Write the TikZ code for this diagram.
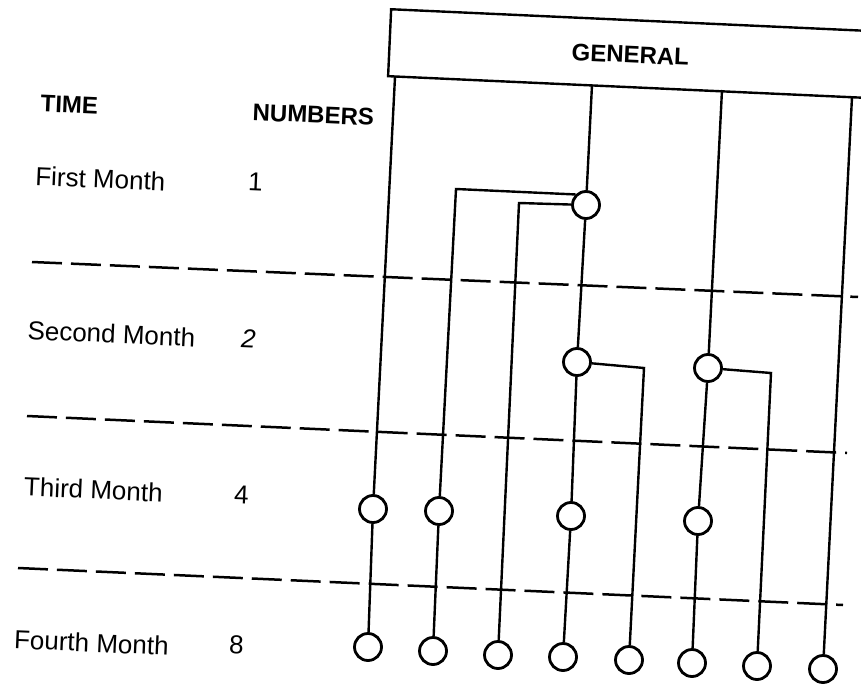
\documentclass[tikz,border=0pt]{standalone}
\usepackage{fontspec}
\setmainfont{Liberation Sans}
\begin{document}
\begin{tikzpicture}[x=1pt,y=-1pt,
  ln/.style={line width=2.4pt},
  dot/.style={circle,draw,line width=2.8pt,minimum size=27pt,inner sep=0pt},
  sep/.style={line width=2.5pt,dash pattern=on 30pt off 9pt},
  lbl/.style={font=\fontsize{26}{30}\selectfont,anchor=base,rotate=-2.5,inner sep=0pt},
  hdr/.style={font=\fontsize{24}{28}\selectfont\bfseries,anchor=base,rotate=-2.5,inner sep=0pt}]
\useasboundingbox (0,0) rectangle (861,684);
\clip (0,0) rectangle (861,684);

% header box
\node[draw,line width=2.4pt,rotate=-2.6,anchor=north west,minimum width=560pt,minimum height=67pt,inner sep=0pt] (box) at (390,8) {};
\node[hdr] (general) at (630,63) {GENERAL};

% left labels
\node[hdr] (time) at (69,113) {TIME};
\node[hdr] (numbers) at (313,123) {NUMBERS};
\node[lbl] (m1) at (100,188) {First Month};
\node[lbl] (n1) at (255,191) {1};
\node[lbl] (m2) at (111,343) {Second Month};
\node[lbl,font=\fontsize{26}{30}\selectfont\itshape] (n2) at (248,348) {2};
\node[lbl] (m3) at (93,499) {Third Month};
\node[lbl] (n4) at (241,504) {4};
\node[lbl] (m4) at (91,652) {Fourth Month};
\node[lbl] (n8) at (236,654) {8};

% dashed separators
\coordinate (d1a) at (32,262);  \coordinate (d1b) at (858,297);
\coordinate (d2a) at (27,416);  \coordinate (d2b) at (847,453);
\coordinate (d3a) at (18,568);  \coordinate (d3b) at (843,605);
\draw[sep] (d1a) -- (d1b);
\draw[sep] (d2a) -- (d2b);
\draw[sep] (d3a) -- (d3b);

% circles
\node[dot] (c1) at (586,205) {};
\node[dot] (r2a) at (577,362) {};
\node[dot] (r2b) at (708,368) {};
\node[dot] (r3a) at (373,509) {};
\node[dot] (r3b) at (439,511) {};
\node[dot] (r3c) at (571,516) {};
\node[dot] (r3d) at (698,521) {};
\node[dot] (r4a) at (368,647) {};
\node[dot] (r4b) at (433,651) {};
\node[dot] (r4c) at (498,655) {};
\node[dot] (r4d) at (563,657) {};
\node[dot] (r4e) at (629,660) {};
\node[dot] (r4f) at (692,663) {};
\node[dot] (r4g) at (757,666) {};
\node[dot] (r4h) at (823,669) {};

% attachment points on the header box and corners
\coordinate (t1) at (395,77);
\coordinate (t2) at (592,85);
\coordinate (t3) at (722,90);
\coordinate (t4) at (852,97);
\coordinate (k1) at (456,189);
\coordinate (k2) at (519,203);
\coordinate (k3) at (644,368);
\coordinate (k4) at (771,373);

% connectors
\draw[ln] (t1) -- (r3a);
\draw[ln] (t2) -- (c1);
\draw[ln] (t3) -- (r2b);
\draw[ln] (t4) -- (r4h);
\draw[ln] (c1.135) -- (k1) -- (r3b);
\draw[ln] (c1) -- (k2) -- (r4c);
\draw[ln] (c1) -- (r2a);
\draw[ln] (r2a) -- (k3) -- (r4e);
\draw[ln] (r2b) -- (k4) -- (r4g);
\draw[ln] (r2a) -- (r3c);
\draw[ln] (r3c) -- (r4d);
\draw[ln] (r2b) -- (r3d);
\draw[ln] (r3d) -- (r4f);
\draw[ln] (r3a) -- (r4a);
\draw[ln] (r3b) -- (r4b);
\end{tikzpicture}
\end{document}
